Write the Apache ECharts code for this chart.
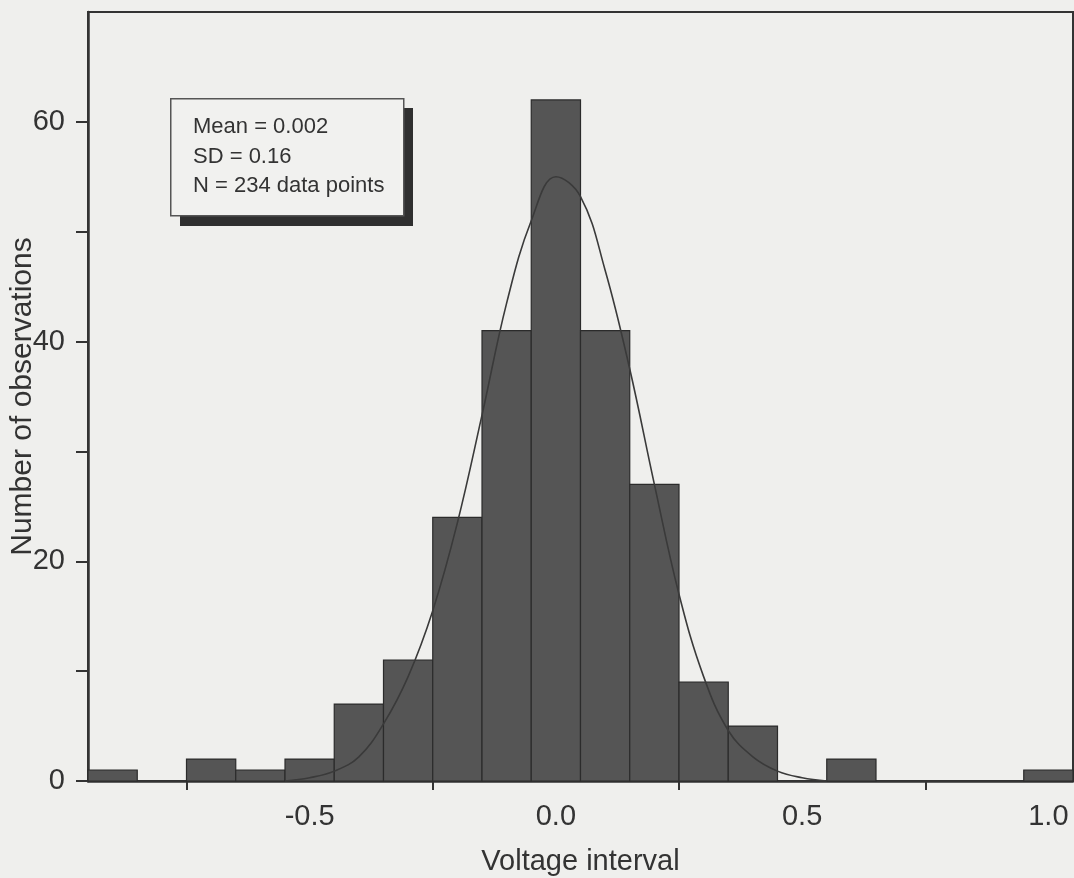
<!DOCTYPE html>
<html>
<head>
<meta charset="utf-8">
<script src="https://cdn.jsdelivr.net/npm/echarts@6/dist/echarts.min.js"></script>
<style>
  html, body { margin: 0; padding: 0; background: #efefed; }
  #chart { width: 1074px; height: 878px; }
</style>
</head>
<body>
<div id="chart"></div>
<script>
// Histogram bins (centre of each 0.1 V interval) and their counts
const binCenters = [-0.9, -0.8, -0.7, -0.6, -0.5, -0.4, -0.3, -0.2, -0.1, 0.0,
                    0.1, 0.2, 0.3, 0.4, 0.5, 0.6, 0.7, 0.8, 0.9, 1.0];
const counts     = [1, 0, 2, 1, 2, 7, 11, 24, 41, 62,
                    41, 27, 9, 5, 0, 2, 0, 0, 0, 1];
const binWidth = 0.1;

// Fitted normal curve, sampled every 0.05 V
const curveX = [-0.55, -0.5, -0.45, -0.4, -0.35, -0.3, -0.25, -0.2, -0.15, -0.1, -0.05, 0.0,
                0.05, 0.1, 0.15, 0.2, 0.25, 0.3, 0.35, 0.4, 0.45, 0.5, 0.55];
const curveY = [0, 0.3, 0.9, 2.2, 5.2, 9.5, 15.5, 23.5, 33.3, 43.5, 51, 55,
                53.2, 46.5, 37.5, 27, 17, 9.5, 4.6, 2.2, 0.9, 0.3, 0];

// Axis ticks and labels
const xTickValues  = [-0.75, -0.25, 0.25, 0.75];
const xLabelValues = [-0.5, 0.0, 0.5, 1.0];
const yTickValues  = [0, 10, 20, 30, 40, 50, 60];
const yLabelValues = [0, 20, 40, 60];

// Summary statistics box
const statsLines = ['Mean = 0.002', 'SD = 0.16', 'N = 234 data points'];

const ink = '#333333';
const font = '"Liberation Sans", Arial, sans-serif';

const chart = echarts.init(document.getElementById('chart'), null, { renderer: 'canvas' });

const histData = binCenters.map((c, i) => [c, counts[i]]);
const curveData = curveX.map((x, i) => [x, curveY[i]]);

chart.setOption({
  backgroundColor: '#efefed',
  animation: false,
  grid: {
    left: 88, top: 12, width: 985, bottom: 97,
    containLabel: false, outerBoundsMode: 'none',
    show: true, borderColor: ink, borderWidth: 2, backgroundColor: 'transparent'
  },
  xAxis: {
    type: 'value', min: -0.95, max: 1.05,
    name: 'Voltage interval', nameLocation: 'middle', nameGap: 66, nameMoveOverlap: false,
    nameTextStyle: { fontFamily: font, fontSize: 29, color: ink },
    axisLine: { show: true, onZero: false, lineStyle: { color: ink, width: 2.5 } },
    axisTick: { show: true, customValues: xTickValues, length: 9, lineStyle: { color: ink, width: 2 } },
    axisLabel: {
      customValues: xLabelValues, margin: 21,
      fontFamily: font, fontSize: 29, color: ink,
      formatter: v => v.toFixed(1)
    },
    splitLine: { show: false }
  },
  yAxis: {
    type: 'value', min: 0, max: 70, interval: 10,
    name: 'Number of observations', nameLocation: 'middle', nameGap: 50, nameRotate: 90,
    nameMoveOverlap: false,
    nameTextStyle: { fontFamily: font, fontSize: 30, color: ink },
    axisLine: { show: true, onZero: false, lineStyle: { color: ink, width: 2.5 } },
    axisTick: { show: true, customValues: yTickValues, length: 12, lineStyle: { color: ink, width: 2 } },
    axisLabel: {
      customValues: yLabelValues, margin: 23,
      fontFamily: font, fontSize: 29, color: ink
    },
    splitLine: { show: false }
  },
  series: [
    {
      type: 'custom',
      data: histData,
      encode: { x: 0, y: 1 },
      z: 2,
      renderItem: (params, api) => {
        const c = api.value(0);
        const n = api.value(1);
        if (!n) return null;
        const p0 = api.coord([c - binWidth / 2, n]);
        const p1 = api.coord([c + binWidth / 2, 0]);
        return {
          type: 'rect',
          shape: { x: p0[0], y: p0[1], width: p1[0] - p0[0], height: p1[1] - p0[1] },
          style: { fill: '#555555', stroke: '#2b2b2b', lineWidth: 1.2 }
        };
      }
    },
    {
      type: 'line',
      data: curveData,
      smooth: 0.4,
      symbol: 'none',
      z: 5,
      lineStyle: { color: '#3a3a3a', width: 1.6 }
    }
  ],
  graphic: [
    {
      type: 'rect', left: 180, top: 108, z: 10,
      shape: { width: 233, height: 118 },
      style: { fill: '#2f2f2f' }
    },
    {
      type: 'rect', left: 170, top: 98, z: 11,
      shape: { width: 233, height: 117 },
      style: { fill: '#f1f1ef', stroke: '#555', lineWidth: 1.5 }
    },
    ...statsLines.map((t, i) => ({
      type: 'text', left: 193, top: 116 + i * 29.5, z: 12,
      style: { text: t, fontFamily: font, fontSize: 22, fill: ink }
    }))
  ]
});
</script>
</body>
</html>
